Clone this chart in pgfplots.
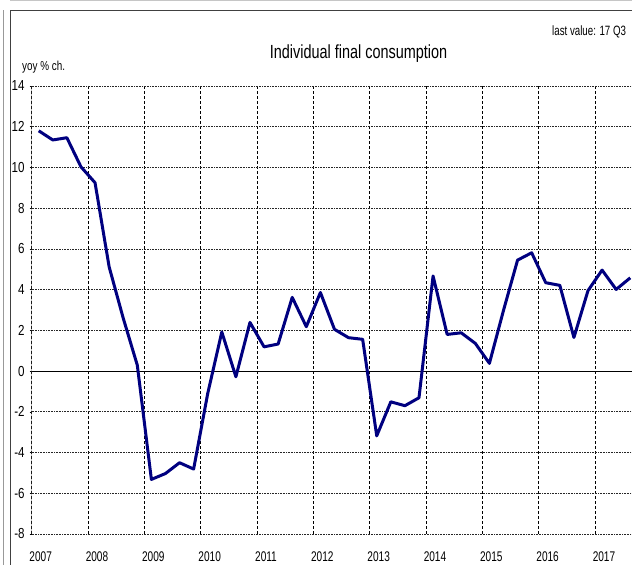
\documentclass[border=0pt]{standalone}
\usepackage{pgfplots}
\pgfplotsset{compat=1.18}
\usepackage{fontspec}
\setmainfont{Liberation Sans}
\usepackage{graphicx}
\newcommand\cx[1]{\scalebox{0.72}[1]{#1}}
\definecolor{navyline}{RGB}{0,0,128}
\pgfplotstableread{
x y
2007.125 11.80
2007.375 11.35
2007.625 11.46
2007.875 10.03
2008.125 9.25
2008.375 5.12
2008.625 2.60
2008.875 0.29
2009.125 -5.32
2009.375 -5.03
2009.625 -4.50
2009.875 -4.81
2010.125 -1.10
2010.375 1.92
2010.625 -0.28
2010.875 2.39
2011.125 1.19
2011.375 1.33
2011.625 3.62
2011.875 2.18
2012.125 3.86
2012.375 2.05
2012.625 1.64
2012.875 1.56
2013.125 -3.18
2013.375 -1.51
2013.625 -1.70
2013.875 -1.31
2014.125 4.67
2014.375 1.80
2014.625 1.88
2014.875 1.36
2015.125 0.38
2015.375 2.98
2015.625 5.45
2015.875 5.81
2016.125 4.34
2016.375 4.21
2016.625 1.65
2016.875 3.95
2017.125 4.96
2017.375 4.01
2017.625 4.58
}\datatable
\begin{document}
\begin{tikzpicture}
\useasboundingbox (0pt,0pt) rectangle (632pt,565pt);
\clip (0pt,0pt) rectangle (632pt,565pt);
\fill[white] (0pt,0pt) rectangle (632pt,565pt);
\draw[gray!45, line width=2pt] (10pt,564.5pt) -- (640pt,564.5pt);
\draw[gray!80, line width=0.8pt] (3pt,-5pt) -- (3pt,555pt);
\draw[black!75, line width=1.2pt] (10.5pt,-5pt) -- (10.5pt,554.5pt) -- (640pt,554.5pt);
\node[anchor=center, inner sep=0pt] at (358.5pt,511pt) {\fontsize{19}{21}\selectfont\scalebox{0.76}[1]{Individual final consumption}};
\node[anchor=west, inner sep=0pt] at (552pt,533pt) {\fontsize{13.5}{15}\selectfont\cx{last value: 17 Q3}};
\node[anchor=west, inner sep=0pt] at (22pt,497.5pt) {\fontsize{13}{15}\selectfont\scalebox{0.76}[1]{yoy \% ch.}};
\begin{axis}[
  at={(31.67pt,31pt)}, anchor=south west, scale only axis,
  width=619.7pt, height=448pt,
  xmin=2007, xmax=2018, ymin=-8, ymax=14,
  xtick={2007,...,2017}, ytick={-8,-6,...,14},
  axis line style={draw=none},
  grid=major,
  x grid style={black, line width=0.6pt, dash pattern=on 3pt off 2pt},
  y grid style={black!85, line width=0.7pt, dash pattern=on 1pt off 0.6pt},
  tick align=outside, major tick length=2pt,
  xtick style={draw=none}, ytick style={black, line width=0.6pt},
  /pgf/number format/assume math mode=true,
  xticklabel={\fontsize{14}{16}\selectfont\cx{\pgfmathprintnumber[1000 sep={}]{\tick}}},
  yticklabel={\fontsize{14.5}{16}\selectfont\scalebox{0.8}[1]{\pgfmathprintnumber{\tick}}},
  xticklabel style={anchor=north, xshift=9pt, yshift=-12pt},
  yticklabel style={anchor=east, xshift=-1.5pt},
  clip=true,
]
\draw[black, line width=0.9pt] (axis cs:2007,0) -- (axis cs:2018,0);
\draw[black!70, line width=1.4pt] (axis cs:2007,-8) -- (axis cs:2007,14);
\addplot[navyline, line width=3pt, line join=round, mark=none] table[x=x,y=y] {\datatable};
\end{axis}
\end{tikzpicture}
\end{document}
